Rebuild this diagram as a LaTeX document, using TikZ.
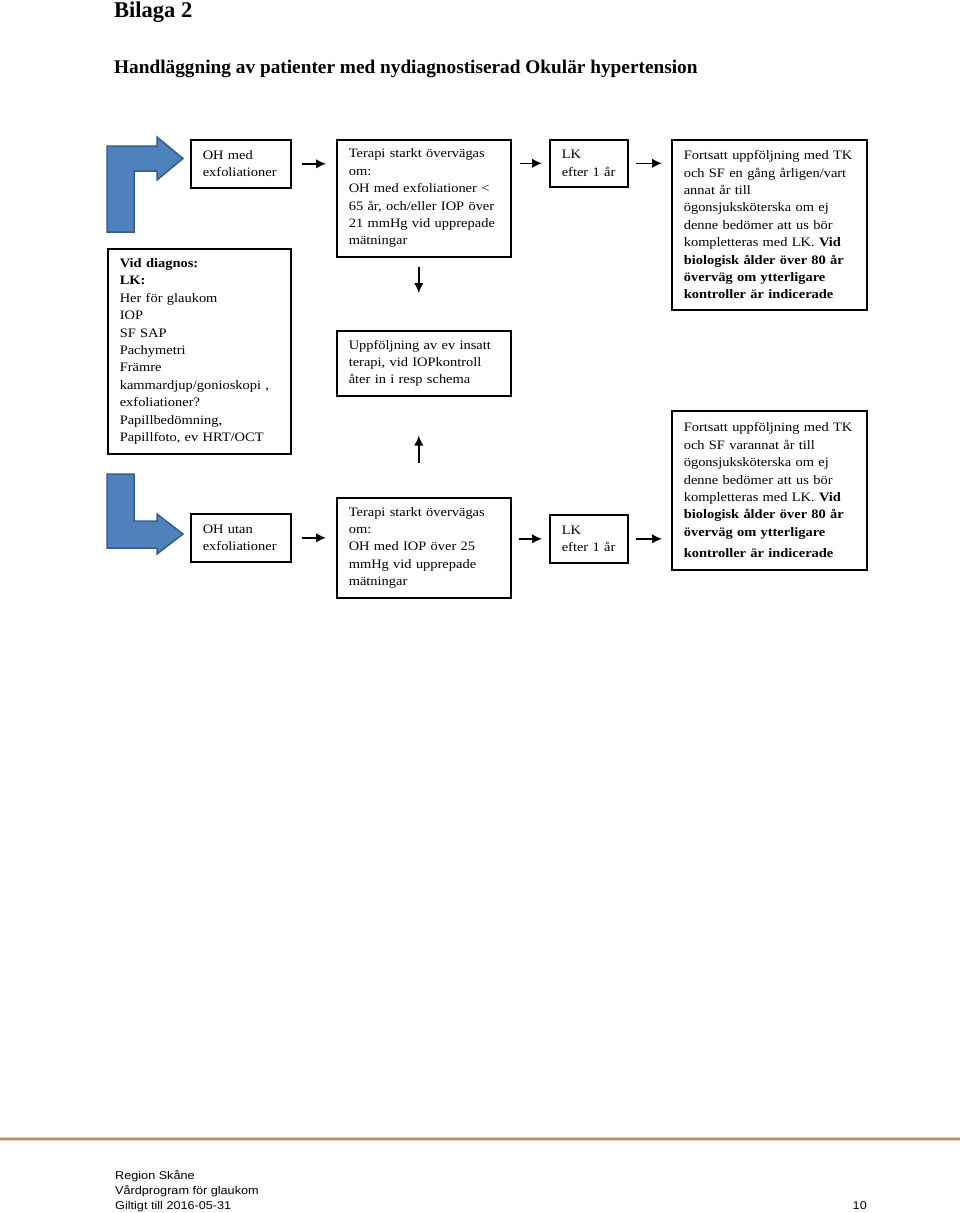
\documentclass[tikz,border=0pt]{standalone}
\usepackage{fontspec}
\setmainfont{Liberation Serif}
\newfontfamily\boxfont{Liberation Serif}[FakeStretch=1.12]
\newfontfamily\footfont{Liberation Sans}[FakeStretch=1.12]
\usetikzlibrary{arrows.meta,calc}
\definecolor{blueA}{HTML}{4F81BD}
\definecolor{blueB}{HTML}{385D8A}
\definecolor{rulecol}{HTML}{C8845A}
\tikzset{
  box/.style={draw, line width=1.6pt, anchor=north west, align=left,
    inner xsep=12pt, inner ysep=2pt,
    font=\boxfont\fontsize{12.9}{17.4}\selectfont},
  arr/.style={line width=1.6pt, -{Latex[length=10pt,width=9.5pt]}},
  bluearrow/.style={fill=blueA, draw=blueB, line width=1.5pt, line join=miter},
  foottext/.style={anchor=base west, inner sep=0pt, font=\footfont\fontsize{11.3}{15}\selectfont}
}
\begin{document}
\begin{tikzpicture}[x=1pt,y=-1pt]
\useasboundingbox[fill=white] (0,0) rectangle (960,1213);

% titles
\node[anchor=base west, inner sep=0pt, font=\bfseries\fontsize{22.5}{26}\selectfont] (title) at (114,17) {Bilaga 2};
\node[anchor=base west, inner sep=0pt, font=\bfseries\fontsize{19.3}{23}\selectfont] (heading) at (114,73) {Handläggning av patienter med nydiagnostiserad Okulär hypertension};

% blue bent arrows
\draw[bluearrow] (107,232) -- (107,146) -- (157,146) -- (157,137) -- (183,158.5) -- (157,180) -- (157,171) -- (134,171) -- (134,232) -- cycle;
\draw[bluearrow] (107,474) -- (134,474) -- (134,521) -- (157,521) -- (157,514) -- (183,534) -- (157,554) -- (157,548) -- (107,548) -- cycle;

% boxes
\node[box, text width=76pt, minimum height=48pt] (A) at (190,139) {OH med\\exfoliationer};
\node[box, text width=159pt, minimum height=205pt] (B) at (107,248) {\textbf{Vid diagnos:}\\\textbf{LK:}\\Her för glaukom\\IOP\\SF SAP\\Pachymetri\\Främre\\kammardjup/gonioskopi~,\\exfoliationer?\\Papillbedömning,\\Papillfoto, ev HRT/OCT};
\node[box, text width=76pt, minimum height=48pt] (C) at (190,513) {OH utan\\exfoliationer};
\node[box, text width=150pt, minimum height=117pt] (D) at (336,139) {Terapi starkt övervägas\\om:\\OH med exfoliationer~<\\65 år, och/eller IOP över\\21 mmHg vid upprepade\\mätningar};
\node[box, text width=150pt, minimum height=65pt] (E) at (336,330) {Uppföljning av ev insatt\\terapi, vid IOPkontroll\\åter in i resp schema};
\node[box, text width=150pt, minimum height=100pt] (F) at (336,497) {Terapi starkt övervägas\\om:\\OH med IOP över 25\\mmHg vid upprepade\\mätningar};
\node[box, text width=54pt, minimum height=47pt] (G) at (549,139) {LK\\efter~1~år};
\node[box, text width=54pt, minimum height=48pt] (H) at (549,514) {LK\\efter~1~år};
\node[box, text width=171pt, minimum height=170pt] (I) at (671,139) {Fortsatt uppföljning med TK\\och SF en gång årligen/vart\\annat år till\\ögonsjuksköterska om ej\\denne bedömer att us bör\\kompletteras med LK. \textbf{Vid}\\\textbf{biologisk ålder över 80 år}\\\textbf{överväg om ytterligare}\\\textbf{kontroller är indicerade}};
\node[box, text width=171pt, minimum height=159pt] (J) at (671,410) {Fortsatt uppföljning med TK\\och SF varannat år till\\ögonsjuksköterska om ej\\denne bedömer att us bör\\kompletteras med LK. \textbf{Vid}\\\textbf{biologisk ålder över 80 år}\\\textbf{överväg om ytterligare}\\[4pt]\textbf{kontroller är indicerade}};

% connectors
\draw[arr] ([xshift=10pt]A.east) -- ([xshift=-10pt]A.east -| D.west);
\draw[arr] ([xshift=8pt]G.west -| D.east) -- ([xshift=-7pt]G.west);
\draw[arr] ([xshift=7pt]G.east) -- ([xshift=-9pt]G.east -| I.west);
\draw[arr] ([xshift=10pt]C.east) -- ([xshift=-10pt]C.east -| F.west);
\draw[arr] ([xshift=7pt]H.west -| F.east) -- ([xshift=-7pt]H.west);
\draw[arr] ([xshift=7pt]H.east) -- ([xshift=-9pt]H.east -| J.west);
\draw[arr] ([xshift=-5pt,yshift=-9pt]D.south) -- ([xshift=-5pt,yshift=37pt]E.north);
\draw[arr] ([xshift=-5pt,yshift=34pt]F.north) -- ([xshift=-5pt,yshift=-39pt]E.south);

% footer rule
\draw[rulecol!35, line width=4pt] (0,1139) -- (960,1139);
\draw[rulecol, line width=1.8pt] (0,1139) -- (960,1139);

% footer
\node[foottext] (f1) at (115,1179) {Region Skåne};
\node[foottext] (f2) at (115,1194) {Vårdprogram för glaukom};
\node[foottext] (f3) at (115,1209) {Giltigt till 2016-05-31};
\node[foottext, anchor=base east] (pg) at (867,1209) {10};
\end{tikzpicture}
\end{document}
